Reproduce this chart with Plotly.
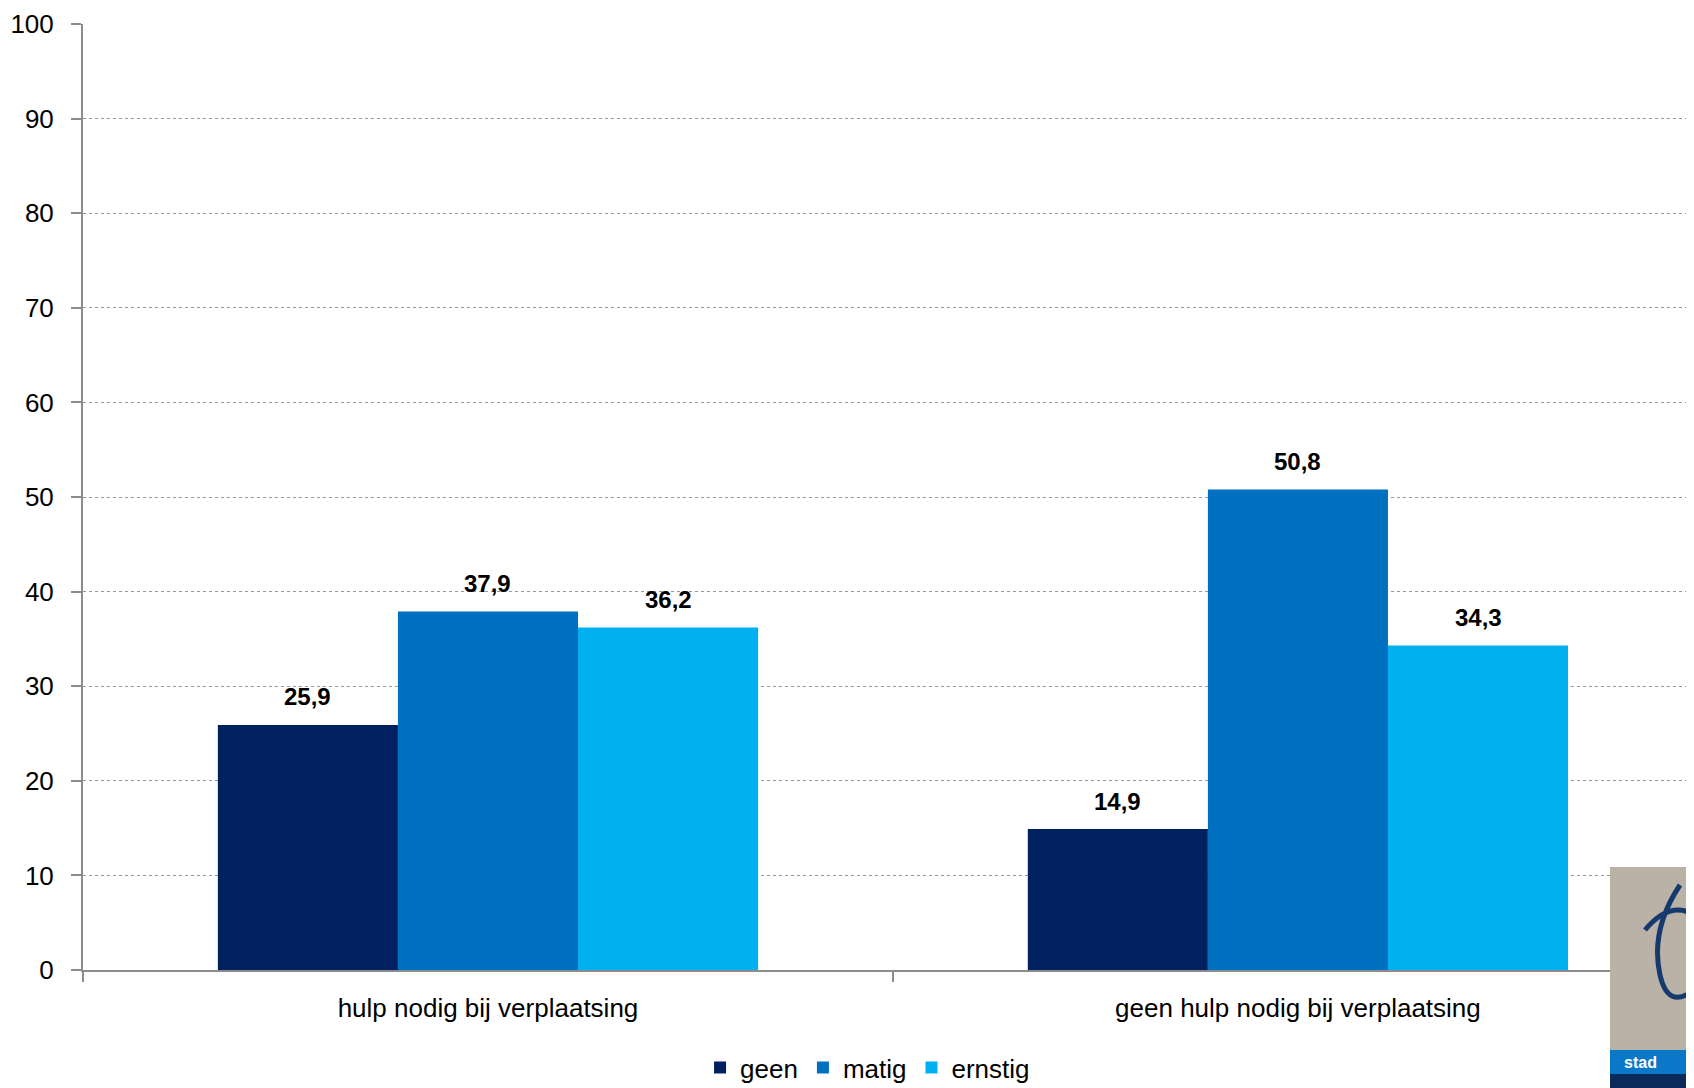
import plotly.graph_objects as go

categories = ["hulp nodig bij verplaatsing", "geen hulp nodig bij verplaatsing"]
series_names = ["geen", "matig", "ernstig"]
geen = [25.9, 14.9]
matig = [37.9, 50.8]
ernstig = [36.2, 34.3]
y_ticks = [0, 10, 20, 30, 40, 50, 60, 70, 80, 90, 100]

colors = ["#002060", "#0070C0", "#00B0F0"]
FONT = "Liberation Sans Narrow, Arial Narrow, Liberation Sans, Arial, sans-serif"
BARGAP = 0.333

# page body has an 8px margin; figure is sized so it ends at the window edge
OFF = 8
W, H = 1694 - OFF, 1088 - OFF
L, R, T, B = 83 - OFF, 0, 24 - OFF, 118

fig = go.Figure()
all_series = [geen, matig, ernstig]
for name, vals, col in zip(series_names, all_series, colors):
    fig.add_trace(go.Bar(
        x=categories, y=vals, name=name,
        marker=dict(color=col, line=dict(width=0)),
        cliponaxis=False,
    ))

# value labels above each bar (positioned from the data values)
n = len(all_series)
bw = (1 - BARGAP) / n
for k, vals in enumerate(all_series):
    for i, v in enumerate(vals):
        fig.add_annotation(
            xref="x", yref="y", x=i + (k - (n - 1) / 2) * bw, y=v,
            yanchor="middle", yshift=28, showarrow=False,
            text="<b>" + f"{v:.1f}".replace(".", ",") + "</b>",
            font=dict(family=FONT, size=24, color="black"),
        )

fig.update_layout(
    width=W, height=H,
    margin=dict(l=L, r=R, t=T, b=B, autoexpand=False),
    paper_bgcolor="white", plot_bgcolor="white",
    barmode="group", bargap=BARGAP, bargroupgap=0,
    font=dict(family=FONT, size=26, color="black"),
    showlegend=True,
    legend=dict(orientation="h", x=0.487, xanchor="center", y=-0.128, yanchor="bottom",
                font=dict(family=FONT, size=26, color="black"),
                itemwidth=30, tracegroupgap=0, bgcolor="rgba(0,0,0,0)"),
    xaxis=dict(
        type="category", range=[-0.5, 1.489],
        showline=True, linecolor="#8c8c8c", linewidth=2,
        ticks="outside", tickson="boundaries", ticklen=10, tickcolor="#8c8c8c", tickwidth=2,
        showgrid=False, zeroline=False,
        tickfont=dict(family=FONT, size=26, color="black"),
        ticklabelstandoff=14,
    ),
    yaxis=dict(
        range=[0, 100], tickvals=y_ticks,
        showline=True, linecolor="#8c8c8c", linewidth=2,
        ticks="outside", ticklen=10, tickcolor="#8c8c8c", tickwidth=2,
        showgrid=True, gridcolor="#999999", gridwidth=1, griddash="dot",
        zeroline=False,
        tickfont=dict(family=FONT, size=26, color="black"),
        ticklabelstandoff=12,
    ),
)

# approximate logo in bottom-right corner (coordinates in window pixels)
pw = 1694 - 83
ph = 970 - 24
def px(xp):
    return (xp - 83) / pw
def py(yp):
    return (970 - yp) / ph

fig.add_shape(type="rect", xref="paper", yref="paper",
              x0=px(1610), x1=px(1700), y0=py(1050), y1=py(867),
              fillcolor="#bab2a6", line=dict(width=0), layer="above")
fig.add_shape(type="path", xref="paper", yref="paper",
              path=(f"M {px(1680)},{py(885)} Q {px(1650)},{py(930)} {px(1660)},{py(975)} "
                    f"Q {px(1668)},{py(1010)} {px(1694)},{py(990)} "
                    f"M {px(1645)},{py(930)} Q {px(1670)},{py(900)} {px(1694)},{py(915)}"),
              line=dict(color="#173a6e", width=5), layer="above")
fig.add_shape(type="rect", xref="paper", yref="paper",
              x0=px(1610), x1=px(1700), y0=py(1074), y1=py(1050),
              fillcolor="#0a78c8", line=dict(width=0), layer="above")
fig.add_shape(type="rect", xref="paper", yref="paper",
              x0=px(1610), x1=px(1700), y0=py(1095), y1=py(1074),
              fillcolor="#0b2a5c", line=dict(width=0), layer="above")
fig.add_annotation(xref="paper", yref="paper", x=px(1622), y=py(1062),
                   xanchor="left", yanchor="middle", showarrow=False,
                   text="<b>stad</b>", font=dict(family="Liberation Sans, Arial", size=16, color="white"))

fig.write_html("out.html")
